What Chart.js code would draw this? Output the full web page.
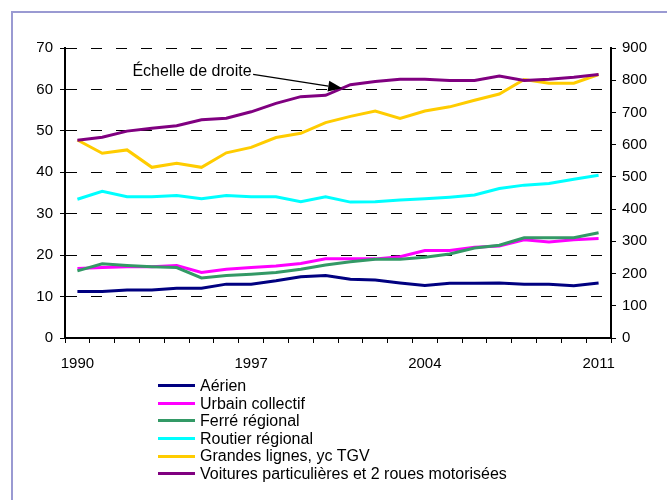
<!DOCTYPE html>
<html>
<head>
<meta charset="utf-8">
<script src="https://cdn.jsdelivr.net/npm/chart.js@4/dist/chart.umd.min.js"></script>
<style>
  html, body { margin: 0; padding: 0; background: #fff; }
  #wrap { position: relative; width: 667px; height: 500px; overflow: hidden;
          font-family: "Liberation Sans", Arial, sans-serif; }
  #frame { position: absolute; left: 11px; top: 11px; width: 700px; height: 520px;
           border-left: 2px solid #9a9ad2; border-top: 2px solid #9a9ad2; }
  #chart { position: absolute; left: 0; top: 0; }
  #legend { position: absolute; left: 158px; top: 377px; font-size: 16px; color: #000; }
  .row { height: 17.6px; line-height: 17.6px; display: flex; align-items: center; white-space: nowrap; }
  .swatch { width: 37px; height: 3px; margin-right: 5px; }
</style>
</head>
<body>
<div id="wrap">
  <div id="frame"></div>
  <canvas id="chart" width="667" height="500"></canvas>
  <div id="legend"></div>
</div>
<script>
// Years on the category axis
const years = [1990, 1991, 1992, 1993, 1994, 1995, 1996, 1997, 1998, 1999, 2000,
               2001, 2002, 2003, 2004, 2005, 2006, 2007, 2008, 2009, 2010, 2011];

// Left-scale series (billions of passenger-km)
const aerien   = [11.2, 11.2, 11.6, 11.6, 12.0, 12.0, 13.0, 13.0, 13.8, 14.8, 15.1,
                  14.2, 14.0, 13.3, 12.7, 13.2, 13.2, 13.3, 13.0, 13.0, 12.6, 13.3];
const urbain   = [16.8, 17.0, 17.2, 17.2, 17.5, 15.8, 16.6, 17.0, 17.4, 18.0, 19.1,
                  19.1, 19.1, 19.6, 21.1, 21.1, 21.9, 22.2, 23.7, 23.2, 23.7, 24.0];
const ferre    = [16.2, 17.9, 17.5, 17.2, 17.0, 14.5, 15.1, 15.4, 15.8, 16.6, 17.6,
                  18.4, 19.0, 19.0, 19.5, 20.3, 21.7, 22.4, 24.2, 24.2, 24.2, 25.4];
const routier  = [33.5, 35.4, 34.1, 34.1, 34.4, 33.6, 34.4, 34.1, 34.1, 32.9, 34.1,
                  32.8, 32.9, 33.3, 33.6, 34.0, 34.5, 36.1, 36.9, 37.3, 38.3, 39.3];
const grandes  = [47.8, 44.6, 45.4, 41.2, 42.2, 41.2, 44.7, 46.0, 48.4, 49.4, 52.0,
                  53.5, 54.8, 53.0, 54.8, 55.8, 57.4, 58.9, 62.4, 61.5, 61.5, 63.6];
// Right-scale series
const voitures = [614, 623, 642, 651, 659, 677, 682, 702, 728, 749, 753,
                  786, 796, 803, 803, 799, 799, 813, 799, 803, 809, 818];

const seriesNames = ['Aérien', 'Urbain collectif', 'Ferré régional', 'Routier régional',
                     'Grandes lignes, yc TGV', 'Voitures particulières et 2 roues motorisées'];
const seriesData = [aerien, urbain, ferre, routier, grandes, voitures];
const seriesColors = ['#000080', '#ff00ff', '#339966', '#00ffff', '#ffcc00', '#800080'];
const seriesAxis = ['yL', 'yL', 'yL', 'yL', 'yL', 'yR'];

// Axis tick labels shown on the year axis
const yearLabels = ['1990', '1997', '2004', '2011'];

// Callout pointing at the car series, placed in data units (x = year index, y = right scale)
const calloutText = 'Échelle de droite';
const calloutTextAt = { index: 7.02, value: 826 };
const calloutFrom   = { index: 7.08, value: 818 };
const calloutTo     = { index: 10.67, value: 775 };

const FONT = '"Liberation Sans", Arial, sans-serif';

const calloutPlugin = {
  id: 'callout',
  afterDatasetsDraw(chart) {
    const { ctx, scales } = chart;
    const xs = scales.x, ys = scales.yR;
    const tx = xs.getPixelForValue(calloutTextAt.index), ty = ys.getPixelForValue(calloutTextAt.value);
    const x1 = xs.getPixelForValue(calloutFrom.index),  y1 = ys.getPixelForValue(calloutFrom.value);
    const x2 = xs.getPixelForValue(calloutTo.index),    y2 = ys.getPixelForValue(calloutTo.value);
    ctx.save();
    ctx.font = '16px ' + FONT;
    ctx.fillStyle = '#000';
    ctx.textAlign = 'right';
    ctx.textBaseline = 'middle';
    ctx.fillText(calloutText, tx, ty);
    const ang = Math.atan2(y2 - y1, x2 - x1);
    const headLen = 14, headHalf = 5.5;
    const bx = x2 - headLen * Math.cos(ang), by = y2 - headLen * Math.sin(ang);
    ctx.strokeStyle = '#000';
    ctx.lineWidth = 1.3;
    ctx.beginPath();
    ctx.moveTo(x1, y1);
    ctx.lineTo(bx, by);
    ctx.stroke();
    ctx.beginPath();
    ctx.moveTo(x2, y2);
    ctx.lineTo(bx + headHalf * Math.sin(ang), by - headHalf * Math.cos(ang));
    ctx.lineTo(bx - headHalf * Math.sin(ang), by + headHalf * Math.cos(ang));
    ctx.closePath();
    ctx.fill();
    ctx.restore();
  }
};

const datasets = seriesNames.map((name, i) => ({
  label: name,
  data: seriesData[i],
  borderColor: seriesColors[i],
  backgroundColor: seriesColors[i],
  borderWidth: 3,
  pointRadius: 0,
  tension: 0,
  fill: false,
  yAxisID: seriesAxis[i],
  order: seriesNames.length - i
}));

const tickFont = { family: FONT, size: 15 };

new Chart(document.getElementById('chart'), {
  type: 'line',
  data: { labels: years.map(String), datasets },
  plugins: [calloutPlugin],
  options: {
    responsive: false,
    animation: false,
    events: [],
    layout: { padding: { left: 0, right: 0, top: 48, bottom: 0 } },
    plugins: { legend: { display: false }, tooltip: { enabled: false } },
    scales: {
      x: {
        type: 'category',
        offset: true,
        grid: { offset: true, drawOnChartArea: false, drawTicks: true, tickLength: 5, tickColor: '#000', tickWidth: 1 },
        border: { display: true, color: '#000', width: 2 },
        ticks: {
          autoSkip: false, maxRotation: 0, padding: 12, color: '#000', font: tickFont,
          callback: function (val, idx) {
            const lbl = this.getLabelForValue(val);
            return yearLabels.includes(lbl) ? lbl : '';
          }
        },
        afterFit(scale) { scale.height = 162; }
      },
      yL: {
        position: 'left',
        min: 0, max: 70,
        grid: { color: '#000', lineWidth: 1, tickLength: 5, tickColor: '#000', tickBorderDash: [] },
        border: { display: true, color: '#000', width: 2, dash: [11, 14] },
        ticks: { stepSize: 10, padding: 7, color: '#000', font: tickFont },
        afterFit(scale) { scale.width = 65; }
      },
      yR: {
        position: 'right',
        min: 0, max: 900,
        grid: { drawOnChartArea: false, tickLength: 5, tickColor: '#000' },
        border: { display: true, color: '#000', width: 2 },
        ticks: { stepSize: 100, padding: 6, color: '#000', font: tickFont },
        afterFit(scale) { scale.width = 56; }
      }
    }
  }
});

// Vertical legend under the plot
const legend = document.getElementById('legend');
seriesNames.forEach((name, i) => {
  const row = document.createElement('div');
  row.className = 'row';
  const sw = document.createElement('span');
  sw.className = 'swatch';
  sw.style.background = seriesColors[i];
  const txt = document.createElement('span');
  txt.textContent = name;
  row.appendChild(sw);
  row.appendChild(txt);
  legend.appendChild(row);
});
</script>
</body>
</html>
